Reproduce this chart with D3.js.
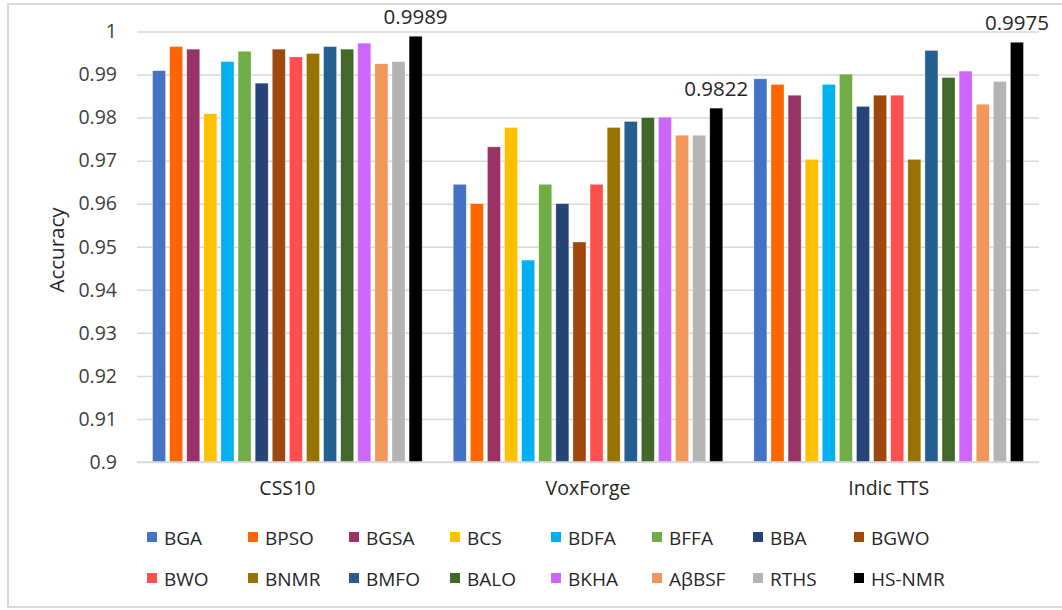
<!DOCTYPE html>
<html>
<head>
<meta charset="utf-8">
<script src="https://cdn.jsdelivr.net/npm/d3@7"></script>
<style>
  html, body { margin: 0; padding: 0; background: #ffffff; }
  svg { display: block; font-family: "Open Sans", "Liberation Sans", sans-serif; }
</style>
</head>
<body>
<svg id="chart" width="1062" height="610"></svg>
<script>
// Datasets on the x axis
const datasets = ["CSS10", "VoxForge", "Indic TTS"];

// Feature-selection methods (one bar per method in each dataset)
const methods = ["BGA", "BPSO", "BGSA", "BCS", "BDFA", "BFFA", "BBA", "BGWO",
                 "BWO", "BNMR", "BMFO", "BALO", "BKHA", "AβBSF", "RTHS", "HS-NMR"];

const methodColors = ["#4472C4", "#FF6600", "#993366", "#FFC000", "#00B0F0", "#70AD47", "#264478", "#9E480E",
                      "#FF5050", "#997300", "#255E91", "#43682B", "#CC66FF", "#F1975A", "#B4B4B4", "#000000"];

// Accuracy per method, one array per dataset (same order as `methods`)
const css10Acc    = [0.9909, 0.9965, 0.9959, 0.9809, 0.9930, 0.9954, 0.9880, 0.9959,
                     0.9941, 0.9949, 0.9965, 0.9959, 0.9973, 0.9925, 0.9930, 0.9989];
const voxforgeAcc = [0.9645, 0.9600, 0.9732, 0.9777, 0.9469, 0.9645, 0.9600, 0.9511,
                     0.9645, 0.9777, 0.9791, 0.9800, 0.9801, 0.9759, 0.9759, 0.9822];
const indicAcc    = [0.9890, 0.9877, 0.9852, 0.9703, 0.9877, 0.9901, 0.9826, 0.9852,
                     0.9852, 0.9703, 0.9956, 0.9893, 0.9908, 0.9831, 0.9884, 0.9975];

const yTicks = [0.9, 0.91, 0.92, 0.93, 0.94, 0.95, 0.96, 0.97, 0.98, 0.99, 1];

const accByDataset = [css10Acc, voxforgeAcc, indicAcc];
const rows = datasets.map((d, i) => ({
  dataset: d,
  values: methods.map((m, j) => ({ method: m, value: accByDataset[i][j], color: methodColors[j] }))
}));

const svg = d3.select("#chart");
const plot = { left: 137, right: 1039, top: 31.5, bottom: 462 };

// Outer chart frame
svg.append("rect")
  .attr("x", 8).attr("y", 4)
  .attr("width", 1070).attr("height", 603)
  .attr("fill", "#ffffff")
  .attr("stroke", "#d9d9d9").attr("stroke-width", 2);

const x0 = d3.scaleBand().domain(datasets).range([plot.left, plot.right]).padding(0);
const x1 = d3.scaleBand().domain(methods).range([0, x0.bandwidth()])
  .paddingInner(0.24).paddingOuter(0.91);
const y = d3.scaleLinear().domain([0.9, 1]).range([plot.bottom, plot.top]);

// Horizontal gridlines + tick labels
const yAxis = d3.axisLeft(y).tickValues(yTicks)
  .tickFormat(d => d3.format("")(+d.toFixed(2)))
  .tickSize(-(plot.right - plot.left)).tickPadding(20);
const gy = svg.append("g").attr("transform", `translate(${plot.left},0)`).call(yAxis);
gy.select(".domain").remove();
gy.selectAll(".tick line").attr("stroke", "#d9d9d9").attr("stroke-width", 1.5);
gy.selectAll(".tick text").attr("fill", "#404040").attr("font-size", 19.5)
  .attr("font-family", "'Open Sans', sans-serif");

// Axis title
svg.append("text")
  .attr("transform", `translate(64,250) rotate(-90)`)
  .attr("text-anchor", "middle")
  .attr("fill", "#262626").attr("font-size", 20.5)
  .text("Accuracy");

// Bars
const groups = svg.append("g").selectAll("g").data(rows).join("g")
  .attr("transform", d => `translate(${x0(d.dataset)},0)`);

groups.selectAll("rect").data(d => d.values).join("rect")
  .attr("x", d => x1(d.method))
  .attr("y", d => y(d.value))
  .attr("width", x1.bandwidth())
  .attr("height", d => y(0.9) - y(d.value))
  .attr("fill", d => d.color)
  .attr("stroke", "#ffffff").attr("stroke-opacity", 0.5).attr("stroke-width", 0.6);

// Value label over the HS-NMR bar of each dataset
groups.append("text")
  .datum(d => d.values.find(v => v.method === "HS-NMR"))
  .attr("x", d => x1(d.method) + x1.bandwidth() / 2)
  .attr("y", d => y(d.value) - 12)
  .attr("text-anchor", "middle")
  .attr("fill", "#262626").attr("font-size", 20.5)
  .text(d => d.value.toFixed(4));

// Baseline at 0.9
svg.append("line")
  .attr("x1", plot.left).attr("x2", plot.right)
  .attr("y1", y(0.9)).attr("y2", y(0.9))
  .attr("stroke", "#d9d9d9").attr("stroke-width", 1.5);

// Category labels
svg.append("g").selectAll("text").data(datasets).join("text")
  .attr("x", d => x0(d) + x0.bandwidth() / 2)
  .attr("y", 495)
  .attr("text-anchor", "middle")
  .attr("fill", "#262626").attr("font-size", 19.5)
  .text(d => d);

// Legend: two rows of eight
const legend = svg.append("g").selectAll("g").data(methods).join("g")
  .attr("transform", (d, i) => `translate(${147 + (i % 8) * 101},${537 + Math.floor(i / 8) * 41})`);
legend.append("rect")
  .attr("x", 0).attr("y", -5).attr("width", 10).attr("height", 10)
  .attr("fill", (d, i) => methodColors[i]);
legend.append("text")
  .attr("x", 17).attr("y", 7.5)
  .attr("fill", "#262626").attr("font-size", 19)
  .text(d => d);
</script>
</body>
</html>
